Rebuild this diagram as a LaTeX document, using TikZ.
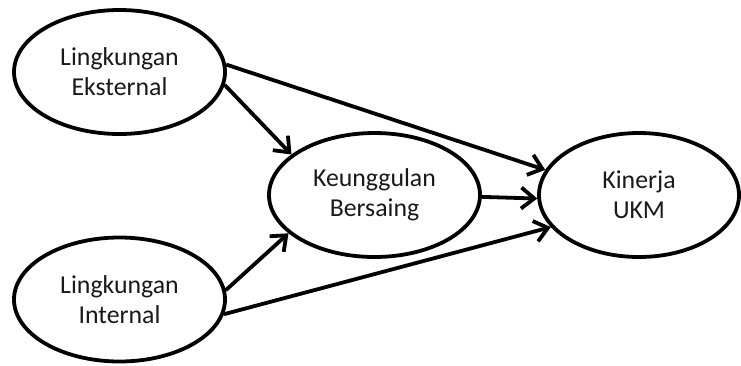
\documentclass[tikz,border=0pt]{standalone}
\usepackage{fontspec}
\setmainfont{Carlito}
\usetikzlibrary{shapes.geometric,arrows.meta}
\tikzset{
  var/.style={ellipse,draw=black,line width=3.8pt,minimum width=211pt,minimum height=124pt,
    inner sep=0pt,align=center,font=\fontsize{25.8}{30}\selectfont,text=black!90},
  link/.style={line width=3.8pt,-{Straight Barb[length=13pt,width=21pt]}}
}
\begin{document}
\begin{tikzpicture}[x=1pt,y=-1pt]
\useasboundingbox (0,0) rectangle (741,365);
\node[var] (LE) at (119.5,72) {Lingkungan\\Eksternal};
\node[var] (LI) at (119.5,299.5) {Lingkungan\\Internal};
\node[var] (K) at (374.5,195) {Keunggulan\\Bersaing};
\node[var,minimum width=200pt] (KU) at (639,195) {Kinerja\\UKM};
\draw[link] (LE.4) -- (KU.165);
\draw[link] (LE.-7) -- (K.154);
\draw[link] (K.-1.5) -- (KU.182);
\draw[link] (LI.5) -- (K.204);
\draw[link] (LI.-8) -- (KU.200);
\end{tikzpicture}
\end{document}
